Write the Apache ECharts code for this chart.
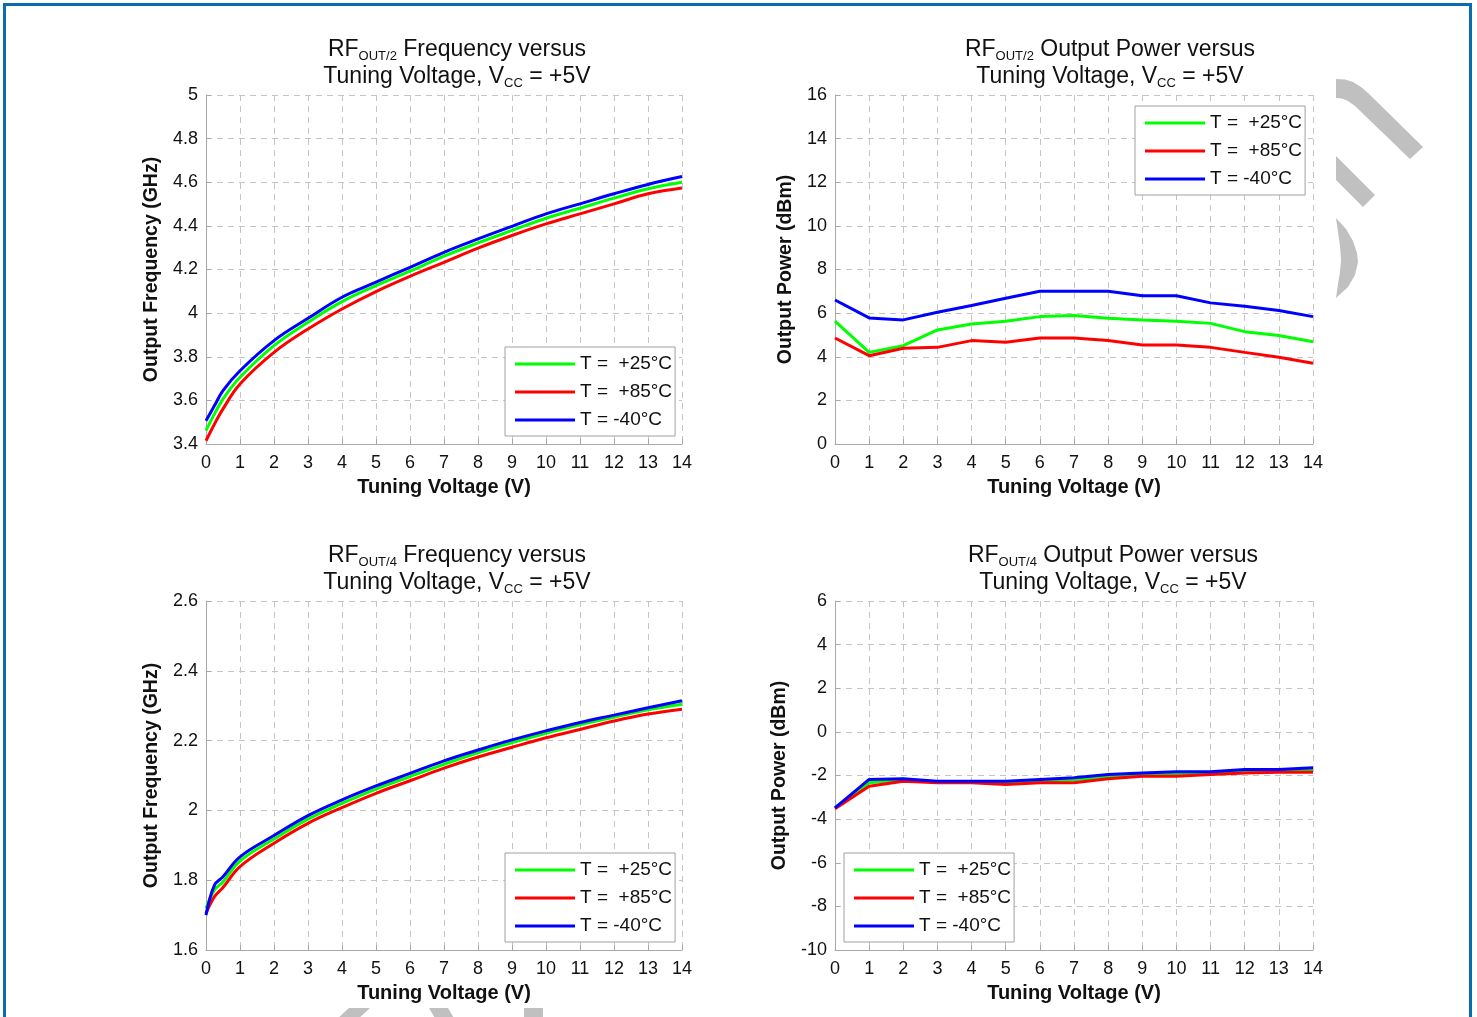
<!DOCTYPE html>
<html><head><meta charset="utf-8">
<script src="https://cdn.jsdelivr.net/npm/echarts@6/dist/echarts.min.js"></script>
<style>html,body{margin:0;padding:0;background:#fff}#c{width:1477px;height:1017px}</style>
</head><body><div id="c"></div>
<script>
// Tuning voltage samples (V)
const vFreq = [0, 0.25, 0.5, 1, 2, 3, 4, 5, 6, 7, 8, 9, 10, 11, 12, 13, 14];
const vPow = [0, 1, 2, 3, 4, 5, 6, 7, 8, 9, 10, 11, 12, 13, 14];
const xTicks = ['0','1','2','3','4','5','6','7','8','9','10','11','12','13','14'];

// RFOUT/2 frequency (GHz)
const f2_p25 = [3.461, 3.538, 3.606, 3.706, 3.851, 3.958, 4.053, 4.126, 4.192, 4.261, 4.322, 4.379, 4.435, 4.481, 4.527, 4.570, 4.600];
const f2_p85 = [3.415, 3.492, 3.561, 3.675, 3.820, 3.927, 4.019, 4.099, 4.169, 4.233, 4.298, 4.356, 4.409, 4.455, 4.501, 4.547, 4.574];
const f2_m40 = [3.507, 3.576, 3.645, 3.736, 3.874, 3.976, 4.073, 4.142, 4.210, 4.279, 4.340, 4.398, 4.455, 4.501, 4.547, 4.590, 4.626];

// RFOUT/2 output power (dBm)
const p2_p25 = [5.63, 4.20, 4.51, 5.23, 5.50, 5.63, 5.84, 5.89, 5.76, 5.69, 5.63, 5.53, 5.15, 4.97, 4.69];
const p2_p85 = [4.86, 4.05, 4.39, 4.43, 4.74, 4.66, 4.86, 4.86, 4.74, 4.54, 4.54, 4.43, 4.20, 3.98, 3.70];
const p2_m40 = [6.60, 5.78, 5.69, 6.04, 6.35, 6.68, 7.00, 7.00, 7.00, 6.80, 6.80, 6.47, 6.31, 6.12, 5.84];

// RFOUT/4 frequency (GHz)
const f4_p25 = [1.719, 1.772, 1.795, 1.855, 1.918, 1.975, 2.020, 2.061, 2.097, 2.132, 2.165, 2.194, 2.221, 2.245, 2.267, 2.288, 2.304];
const f4_p85 = [1.705, 1.753, 1.779, 1.839, 1.906, 1.963, 2.008, 2.049, 2.085, 2.121, 2.153, 2.181, 2.208, 2.232, 2.256, 2.276, 2.290];
const f4_m40 = [1.700, 1.786, 1.810, 1.867, 1.928, 1.985, 2.030, 2.070, 2.106, 2.142, 2.173, 2.202, 2.228, 2.252, 2.273, 2.294, 2.314];

// RFOUT/4 output power (dBm)
const p4_p25 = [-3.48, -2.33, -2.20, -2.30, -2.30, -2.33, -2.26, -2.20, -2.06, -1.95, -1.92, -1.88, -1.77, -1.77, -1.73];
const p4_p85 = [-3.53, -2.49, -2.26, -2.33, -2.33, -2.41, -2.33, -2.33, -2.15, -2.03, -2.03, -1.95, -1.88, -1.85, -1.85];
const p4_m40 = [-3.48, -2.18, -2.15, -2.26, -2.26, -2.26, -2.18, -2.10, -1.95, -1.88, -1.83, -1.83, -1.73, -1.73, -1.65];

const names = ['T =  +25°C', 'T =  +85°C', 'T = -40°C'];
const colors = ['#00ff00', '#ff0000', '#0000ff'];

const FF = '"Liberation Sans", Arial, sans-serif';
const TXT = '#111';

function pairs(xs, ys) { return xs.map((x, i) => [x, ys[i]]); }

function xAx(gi) {
  return {
    type: 'value', gridIndex: gi, min: 0, max: 14, interval: 1,
    name: 'Tuning Voltage (V)', nameLocation: 'middle', nameGap: 33,
    nameTextStyle: { fontSize: 20, fontWeight: 'bold', color: TXT, fontFamily: FF },
    axisLine: { show: true, onZero: false, lineStyle: { color: '#a8a8a8', width: 1 } },
    axisTick: { show: true, inside: true, length: 5, lineStyle: { color: '#a8a8a8' } },
    axisLabel: { fontSize: 18, color: TXT, fontFamily: FF, margin: 10,
      formatter: v => xTicks[Math.round(v)] },
    splitLine: { show: true, lineStyle: { color: '#c4c4c4', type: [6, 5], width: 1 } }
  };
}
function yAx(gi, min, max, interval, name, gap) {
  return {
    type: 'value', gridIndex: gi, min: min, max: max, interval: interval,
    name: name, nameLocation: 'middle', nameGap: gap,
    nameTextStyle: { fontSize: 19.5, fontWeight: 'bold', color: TXT, fontFamily: FF },
    axisLine: { show: true, onZero: false, lineStyle: { color: '#a8a8a8', width: 1 } },
    axisTick: { show: true, inside: true, length: 5, lineStyle: { color: '#a8a8a8' } },
    axisLabel: { fontSize: 18, color: TXT, fontFamily: FF, margin: 8,
      formatter: v => String(parseFloat(v.toFixed(2))) },
    splitLine: { show: true, lineStyle: { color: '#c4c4c4', type: [6, 5], width: 1 } }
  };
}
function ser(gi, xs, ys, k, smooth) {
  return {
    type: 'line', name: names[k], xAxisIndex: gi, yAxisIndex: gi,
    data: pairs(xs, ys), showSymbol: false, symbol: 'none',
    smooth: smooth ? 0.4 : false,
    lineStyle: { color: colors[k], width: 3 }, itemStyle: { color: colors[k] },
    animation: false
  };
}
function legend(left, top) {
  return {
    orient: 'vertical', left: left, top: top, data: names,
    icon: 'rect', itemWidth: 60, itemHeight: 3, itemGap: 8,
    padding: [7, 3, 6, 10],
    backgroundColor: '#fff', borderColor: '#a0a0a0', borderWidth: 1,
    textStyle: { fontSize: 19, color: TXT, fontFamily: FF, lineHeight: 20 },
    selectedMode: false
  };
}
function title(cx, top, sub) {
  return {
    left: cx, top: top, textAlign: 'center',
    text: '{a|RF}{s|' + sub.s + '}{a|' + sub.t + '}\n{a|Tuning Voltage, V}{s|CC}{a| = +5V}',
    textStyle: {
      fontWeight: 'normal',
      rich: {
        a: { fontSize: 23, lineHeight: 27, color: TXT, fontFamily: FF, fontWeight: 'normal' },
        s: { fontSize: 13, color: TXT, fontFamily: FF, fontWeight: 'normal', padding: [14, 0, 0, 0] }
      }
    }
  };
}

const grey = '#c0c0c0';
const option = {
  backgroundColor: '#fff',
  animation: false,
  title: [
    title(452, 31, { s: 'OUT/2', t: ' Frequency versus' }),
    title(1105, 31, { s: 'OUT/2', t: ' Output Power versus' }),
    title(452, 537, { s: 'OUT/4', t: ' Frequency versus' }),
    title(1108, 537, { s: 'OUT/4', t: ' Output Power versus' })
  ],
  grid: [
    { left: 206, top: 95, width: 476, height: 349 },
    { left: 835, top: 95, width: 478, height: 349 },
    { left: 206, top: 601, width: 476, height: 349 },
    { left: 835, top: 601, width: 478, height: 349 }
  ],
  xAxis: [xAx(0), xAx(1), xAx(2), xAx(3)],
  yAxis: [
    yAx(0, 3.4, 5, 0.2, 'Output Frequency (GHz)', 44),
    yAx(1, 0, 16, 2, 'Output Power (dBm)', 39),
    yAx(2, 1.6, 2.6, 0.2, 'Output Frequency (GHz)', 44),
    yAx(3, -10, 6, 2, 'Output Power (dBm)', 45)
  ],
  legend: [legend(505, 347), legend(1135, 106), legend(505, 853), legend(844, 853)],
  series: [
    ser(0, vFreq, f2_p25, 0, true), ser(0, vFreq, f2_p85, 1, true), ser(0, vFreq, f2_m40, 2, true),
    ser(1, vPow, p2_p25, 0, false), ser(1, vPow, p2_p85, 1, false), ser(1, vPow, p2_m40, 2, false),
    ser(2, vFreq, f4_p25, 0, true), ser(2, vFreq, f4_p85, 1, true), ser(2, vFreq, f4_m40, 2, true),
    ser(3, vPow, p4_p25, 0, false), ser(3, vPow, p4_p85, 1, false), ser(3, vPow, p4_m40, 2, false)
  ],
  graphic: [
    { type: 'rect', shape: { x: 4.5, y: 4.5, width: 1466, height: 1040 },
      style: { fill: 'none', stroke: '#0a6bb0', lineWidth: 3 }, z: 100 },
    { type: 'polygon', shape: { points: [[1336,79],[1345,79.5],[1353,82],[1361,87],[1368,93],[1423,147],[1410,159],[1355,106],[1348,101],[1342,98.5],[1336,98]] }, style: { fill: grey } },
    { type: 'polygon', shape: { points: [[1336,156],[1375,195],[1363,207],[1336,180]] }, style: { fill: grey } },
    { type: 'polygon', shape: { points: [[1336,218],[1346,229],[1353,241],[1357,253],[1358,262],[1355,275],[1348,287],[1336,298],[1338,284],[1340,272],[1341,260],[1340,246],[1338,232]] }, style: { fill: grey } },
    { type: 'polygon', shape: { points: [[349,1008],[370,1008],[357,1020],[336,1020]] }, style: { fill: grey } },
    { type: 'polygon', shape: { points: [[429,1008],[448,1008],[455,1020],[436,1020]] }, style: { fill: grey } },
    { type: 'rect', shape: { x: 524, y: 1008, width: 19, height: 12 }, style: { fill: grey } }
  ]
};
const chart = echarts.init(document.getElementById('c'), null, { renderer: 'canvas' });
chart.setOption(option);
</script>
</body></html>
